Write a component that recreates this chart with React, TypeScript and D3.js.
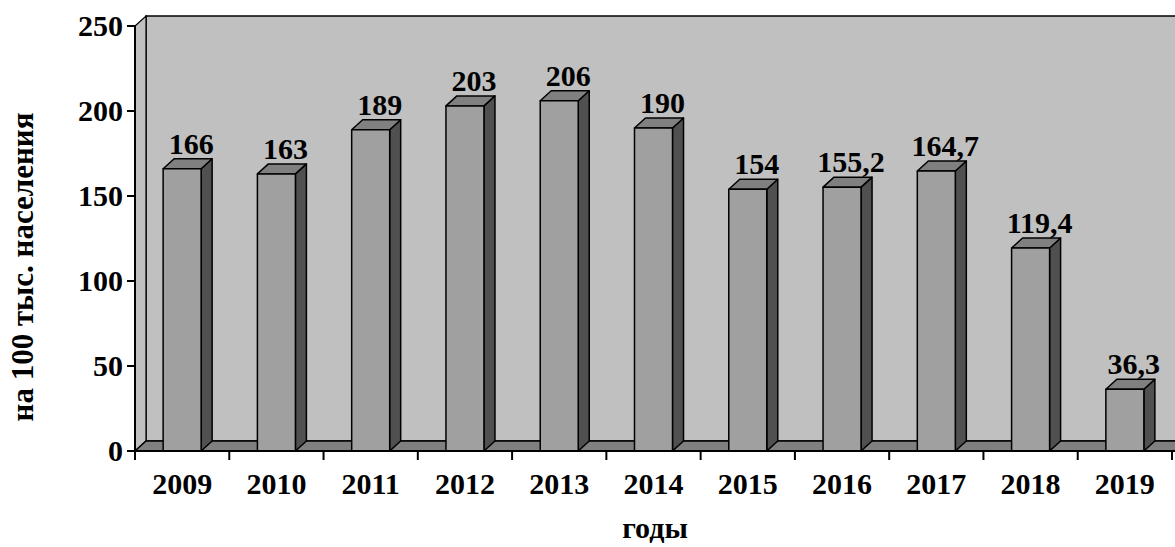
import React from 'react';
import * as d3 from 'd3';

const years = ['2009', '2010', '2011', '2012', '2013', '2014', '2015', '2016', '2017', '2018', '2019'];
const values = [166, 163, 189, 203, 206, 190, 154, 155.2, 164.7, 119.4, 36.3];
const yTicks = [0, 50, 100, 150, 200, 250];

const W = 1175;
const H = 547;
const font = '"Liberation Serif", "Times New Roman", serif';

export default function App() {
  const x0 = 135;
  const x1 = 1172;
  const dx = 11; // depth offset
  const dy = 10;
  const barW = 38;

  const y = d3.scaleLinear().domain([0, 250]).range([451, 26]);
  const x = d3.scaleBand<string>().domain(years).range([x0, x1]).padding(0);
  const bw = x.bandwidth();
  const base = y(0);
  const top = y(250);

  const pts = (p: number[][]) => p.map(d => d.join(',')).join(' ');
  const fmt = (v: number) => String(v).replace('.', ',');

  return (
    <svg width={W} height={H} style={{ position: 'absolute', left: 0, top: 0, background: 'white' }}>
      {/* back wall */}
      <rect x={x0 + dx} y={top - dy} width={W + 40} height={base - top} fill="#c0c0c0" stroke="#000" strokeWidth={1.5} />
      {/* left wall */}
      <polygon
        points={pts([[x0, top], [x0 + dx, top - dy], [x0 + dx, base - dy], [x0, base]])}
        fill="#c0c0c0" stroke="#000" strokeWidth={1.2} />
      {/* floor */}
      <polygon
        points={pts([[x0, base], [x0 + dx, base - dy], [W + 40, base - dy], [W + 40, base]])}
        fill="#808080" stroke="#000" strokeWidth={1.5} />

      {/* bars */}
      {years.map((yr, i) => {
        const cx = (x(yr) as number) + bw / 2;
        const l = cx - barW / 2;
        const r = cx + barW / 2;
        const t = y(values[i]);
        return (
          <g key={yr} stroke="#000" strokeWidth={1.5} strokeLinejoin="round">
            <polygon points={pts([[r, t], [r + dx, t - dy], [r + dx, base - dy], [r, base]])} fill="#505050" />
            <polygon points={pts([[l, t], [l + dx, t - dy], [r + dx, t - dy], [r, t]])} fill="#808080" />
            <rect x={l} y={t} width={barW} height={base - t} fill="#a0a0a0" />
          </g>
        );
      })}

      {/* value labels */}
      {years.map((yr, i) => {
        const cx = (x(yr) as number) + bw / 2;
        return (
          <text key={yr} x={cx + 9} y={y(values[i]) - dy - 5} textAnchor="middle"
            fontFamily={font} fontWeight="bold" fontSize={30} fill="#000">
            {fmt(values[i])}
          </text>
        );
      })}

      {/* y axis */}
      <line x1={x0} x2={x0} y1={top} y2={base} stroke="#000" strokeWidth={2} />
      {yTicks.map(t => (
        <g key={t}>
          <line x1={x0 - 8} x2={x0} y1={y(t)} y2={y(t)} stroke="#000" strokeWidth={2} />
          <text x={x0 - 12} y={y(t)} dy="0.34em" textAnchor="end"
            fontFamily={font} fontWeight="bold" fontSize={30} fill="#000">{t}</text>
        </g>
      ))}

      {/* x axis */}
      <line x1={x0} x2={W} y1={base} y2={base} stroke="#000" strokeWidth={2} />
      {years.map(yr => (
        <line key={'t' + yr} x1={x(yr) as number} x2={x(yr) as number} y1={base} y2={base + 9}
          stroke="#000" strokeWidth={2} />
      ))}
      <line x1={x1} x2={x1} y1={base} y2={base + 9} stroke="#000" strokeWidth={2} />
      {years.map(yr => (
        <text key={'l' + yr} x={(x(yr) as number) + bw / 2} y={494} textAnchor="middle"
          fontFamily={font} fontWeight="bold" fontSize={30} fill="#000">{yr}</text>
      ))}

      {/* titles */}
      <text x={655} y={538} textAnchor="middle" fontFamily={font} fontWeight="bold" fontSize={30} fill="#000">годы</text>
      <text transform="translate(33,267) rotate(-90)" textAnchor="middle"
        fontFamily={font} fontWeight="bold" fontSize={31} fill="#000">на 100 тыс. населения</text>
    </svg>
  );
}
